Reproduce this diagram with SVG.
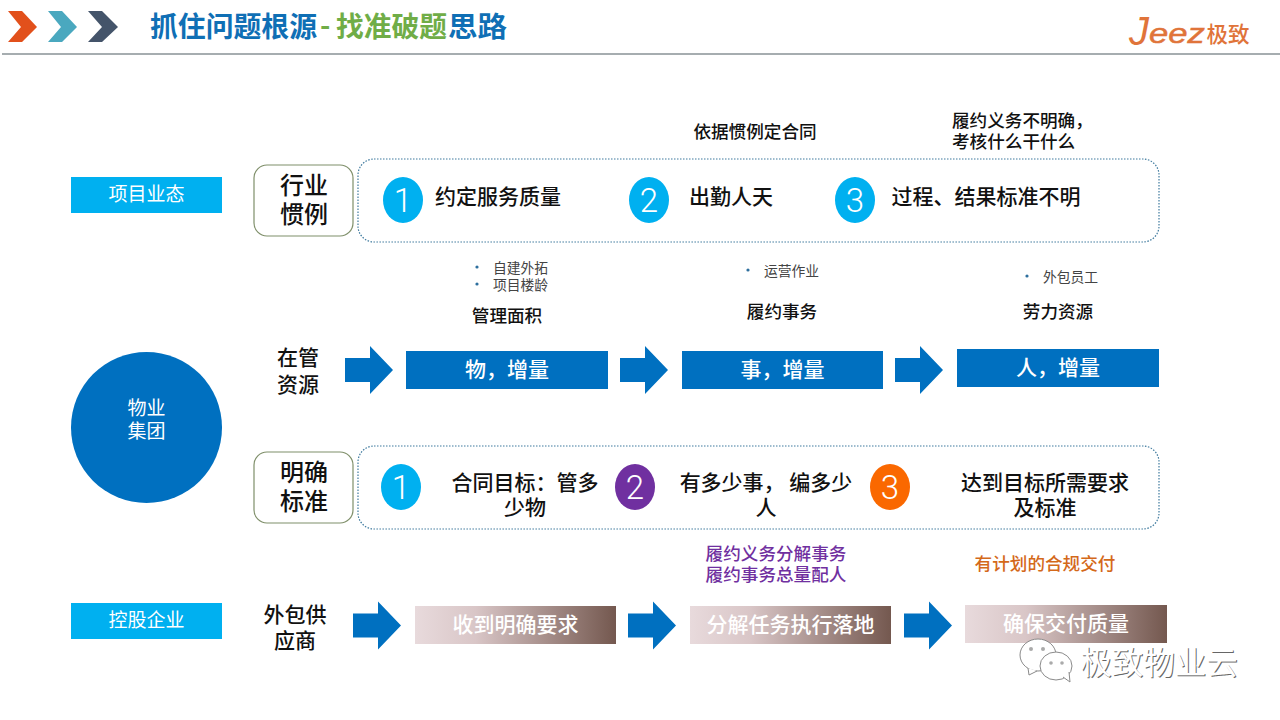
<svg xmlns="http://www.w3.org/2000/svg" width="1280" height="720" viewBox="0 0 1280 720">
<style>
text{font-family:"Noto Sans CJK SC","Liberation Sans",sans-serif;text-anchor:middle;fill:#111}
.blue{fill:#0070c0}
.cy{fill:#00b0f0}
.lab{font-size:19px;fill:#fff}
.big{font-size:24px;font-weight:500}
.mid{font-size:21px;font-weight:500}
.sm{font-size:17.600px;font-weight:500}
.xs{font-size:13.800px;fill:#444}
.res{font-size:21px;font-weight:500}
.bar{font-size:21px;fill:#fff;font-weight:500}
.num{font-family:Roboto,"Liberation Sans",sans-serif;font-weight:300;font-size:33px;fill:#fff}
.ttl{font-size:28px;font-weight:700;text-anchor:start}
.tag{fill:#fff;stroke:#7f8f6a;stroke-width:1.2}
.panel{fill:#fff;stroke:#3f7a9e;stroke-width:1.2;stroke-dasharray:1.5 1.5}
.dot{fill:#2e6f9e}
.logo{fill:#e0743a;text-anchor:start;font-family:"Liberation Sans",sans-serif;font-style:italic}
</style>
<defs>
<linearGradient id="g"><stop offset="0" stop-color="#e8dadc"/><stop offset=".3" stop-color="#d9c6c7"/><stop offset="1" stop-color="#74584f"/></linearGradient>
<path id="arr" d="M0 -12H25V-24L48 0L25 24V12H0Z" fill="#0070c0"/>
</defs>
<rect width="1280" height="720" fill="#fff"/>
<g id="header">
<path d="M8 11H22L37 27L22 42H8L21 27Z" fill="#e2501b"/>
<path d="M48 11H62L77 27L62 42H48L61 27Z" fill="#4aa8bf"/>
<path d="M88 11H102L118 27L102 42H88L102 27Z" fill="#44546a"/>
<text x="150" y="37" class="ttl" style="fill:#0f6fb5" textLength="167" lengthAdjust="spacingAndGlyphs">抓住问题根源</text>
<text x="320" y="36" class="ttl" style="fill:#70ad47">-</text>
<text x="336" y="37" class="ttl" style="fill:#70ad47" textLength="111" lengthAdjust="spacingAndGlyphs">找准破题</text>
<text x="448" y="37" class="ttl" style="fill:#0f6fb5" textLength="59" lengthAdjust="spacingAndGlyphs">思路</text>
<rect x="2" y="53" width="1278" height="2" fill="#a6adb0"/>
<text x="1129" y="45" font-size="40" class="logo">J</text>
<text x="1149" y="43" font-size="28" class="logo" stroke="#e0743a" stroke-width=".5" textLength="56" lengthAdjust="spacingAndGlyphs">eez</text>
<text x="1228" y="42" font-size="21.500" font-weight="500" style="fill:#e0743a">极致</text>
</g>
<g id="top-notes">
<text x="755" y="138" class="sm">依据惯例定合同</text>
<text x="952" y="127" class="sm" style="text-anchor:start">履约义务不明确&#xFF0C;</text>
<text x="952" y="148" class="sm" style="text-anchor:start">考核什么干什么</text>
</g>
<g id="node-xmyt"><rect x="71" y="177" width="151" height="36" class="cy"/><text x="146.500" y="201" class="lab">项目业态</text></g>
<g id="node-hygl"><rect x="254" y="165" width="99" height="71" rx="13" class="tag"/><text x="304" y="194" class="big">行业</text><text x="304" y="223" class="big">惯例</text></g>
<g id="panel-1">
<rect x="358" y="159" width="801" height="83" rx="16" class="panel"/>
<ellipse cx="403" cy="200" rx="20" ry="23" class="cy"/><text x="403" y="212" class="num">1</text>
<text x="498" y="204" class="mid">约定服务质量</text>
<ellipse cx="649" cy="200" rx="20" ry="23" class="cy"/><text x="649" y="212" class="num">2</text>
<text x="731" y="204" class="mid">出勤人天</text>
<ellipse cx="855" cy="200" rx="20" ry="23" class="cy"/><text x="855" y="212" class="num">3</text>
<text x="986" y="204" class="mid">过程、结果标准不明</text>
</g>
<g id="notes-2">
<circle cx="477" cy="267" r="1.600" class="dot"/><text x="520.500" y="273" class="xs">自建外拓</text>
<circle cx="477" cy="284" r="1.600" class="dot"/><text x="520.500" y="290" class="xs">项目楼龄</text>
<text x="507" y="322" class="sm">管理面积</text>
<circle cx="748" cy="270" r="1.600" class="dot"/><text x="791.500" y="276" class="xs">运营作业</text>
<text x="782" y="318" class="sm">履约事务</text>
<circle cx="1027" cy="276" r="1.600" class="dot"/><text x="1070.500" y="282" class="xs">外包员工</text>
<text x="1058" y="318" class="sm">劳力资源</text>
</g>
<g id="node-wygs"><circle cx="146.500" cy="427.500" r="75.500" class="blue"/><text x="146.500" y="415" class="lab">物业</text><text x="146.500" y="438" class="lab">集团</text></g>
<g id="node-zgzy"><text x="298" y="365" class="res">在管</text><text x="298" y="392" class="res">资源</text></g>
<g id="node-wu"><rect x="406" y="351" width="202" height="38" class="blue"/><text x="507" y="377" class="bar">物&#xFF0C;增量</text></g>
<g id="node-shi"><rect x="682" y="351" width="201" height="38" class="blue"/><text x="782.500" y="377" class="bar">事&#xFF0C;增量</text></g>
<g id="node-ren"><rect x="957" y="349" width="202" height="38" class="blue"/><text x="1058" y="375" class="bar">人&#xFF0C;增量</text></g>
<g id="node-mqbz"><rect x="254" y="452" width="99" height="71" rx="13" class="tag"/><text x="304" y="481" class="big">明确</text><text x="304" y="510" class="big">标准</text></g>
<g id="panel-2">
<rect x="358" y="446" width="801" height="83" rx="16" class="panel"/>
<ellipse cx="401" cy="487" rx="20" ry="23" class="cy"/><text x="401" y="499" class="num">1</text>
<text x="525" y="490" class="mid">合同目标&#xFF1A;管多</text><text x="525" y="515" class="mid">少物</text>
<ellipse cx="635" cy="487" rx="20" ry="23" fill="#7030a0"/><text x="635" y="499" class="num">2</text>
<text x="766" y="490" class="mid">有多少事&#xFF0C; 编多少</text><text x="766" y="515" class="mid">人</text>
<ellipse cx="890" cy="487" rx="20" ry="23" fill="#fa6800"/><text x="890" y="499" class="num">3</text>
<text x="1045" y="490" class="mid">达到目标所需要求</text><text x="1045" y="515" class="mid">及标准</text>
</g>
<g id="notes-3">
<text x="776" y="560" class="sm" style="fill:#7030a0">履约义务分解事务</text>
<text x="776" y="581" class="sm" style="fill:#7030a0">履约事务总量配人</text>
<text x="1045" y="570" class="sm" style="fill:#d4691a">有计划的合规交付</text>
</g>
<g id="node-kgqy"><rect x="71" y="603" width="151" height="36" class="cy"/><text x="146.500" y="627" class="lab">控股企业</text></g>
<g id="node-wbgys"><text x="295" y="622" class="res">外包供</text><text x="295" y="648" class="res">应商</text></g>
<g id="node-sd"><rect x="415" y="606" width="201" height="38" fill="url(#g)"/><text x="515.500" y="632" class="bar">收到明确要求</text></g>
<g id="node-fj"><rect x="690" y="606" width="201" height="38" fill="url(#g)"/><text x="790.500" y="632" class="bar">分解任务执行落地</text></g>
<g id="node-qb"><rect x="965" y="605" width="202" height="38" fill="url(#g)"/><text x="1066" y="631" class="bar">确保交付质量</text></g>
<g id="connectors">
<use href="#arr" x="345" y="370"/>
<use href="#arr" x="620" y="370"/>
<use href="#arr" x="895" y="370"/>
<use href="#arr" x="353" y="625.500"/>
<use href="#arr" x="628" y="625.500"/>
<use href="#arr" x="904" y="625.500"/>
</g>
<g id="watermark">
<g fill="#fff" stroke="#8a8a8a" stroke-width="1">
<ellipse cx="1038" cy="655" rx="18" ry="16"/><path d="M1028 668L1029 675L1037 671"/>
<ellipse cx="1056" cy="666" rx="16" ry="14"/><path d="M1063 677L1070 682L1069 672"/>
</g>
<circle cx="1031" cy="649" r="2" fill="#aaa"/><circle cx="1043" cy="649" r="2" fill="#aaa"/><circle cx="1051" cy="663" r="1.800" fill="#aaa"/><circle cx="1062" cy="663" r="1.800" fill="#aaa"/>
<text x="1159" y="674" font-size="31.500" style="fill:#666" transform="translate(1 1)">极致物业云</text>
<text x="1159" y="674" font-size="31.500" style="fill:#fff">极致物业云</text>
</g>
</svg>
